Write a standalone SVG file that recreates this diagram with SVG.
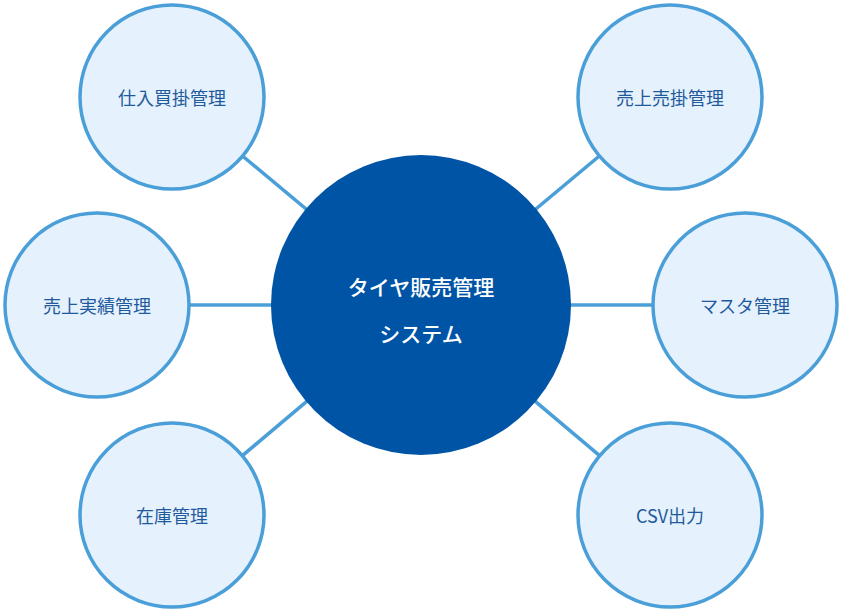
<svg xmlns="http://www.w3.org/2000/svg" width="842" height="610" viewBox="0 0 842 610">
<style>
.c{fill:#e5f1fc;stroke:#4a9fd8;stroke-width:3.5}
.t{font-family:"Noto Sans CJK JP","Noto Sans",sans-serif;font-size:18px;fill:#1f5a9c;text-anchor:middle;dominant-baseline:central}
.m{font-family:"Noto Sans CJK JP","Noto Sans",sans-serif;font-size:21px;fill:#fff;text-anchor:middle;dominant-baseline:central;font-weight:500}
</style>
<rect width="842" height="610" fill="#fff"/>
<g id="connectors" stroke="#4a9fd8" stroke-width="3.5">
<line x1="421" y1="305" x2="172" y2="97"/>
<line x1="421" y1="305" x2="670" y2="97"/>
<line x1="421" y1="305" x2="97" y2="305"/>
<line x1="421" y1="305" x2="745" y2="305"/>
<line x1="421" y1="305" x2="172" y2="515"/>
<line x1="421" y1="305" x2="670" y2="515"/>
</g>
<g id="center"><circle cx="421" cy="305" r="150" fill="#0054a6"/>
<text class="m" x="421" y="286">タイヤ販売管理</text><text class="m" x="421" y="333">システム</text></g>
<g id="n1"><circle class="c" cx="172" cy="97" r="92"/><text class="t" x="172" y="97">仕入買掛管理</text></g>
<g id="n2"><circle class="c" cx="670" cy="97" r="92"/><text class="t" x="670" y="97">売上売掛管理</text></g>
<g id="n3"><circle class="c" cx="97" cy="305" r="92"/><text class="t" x="97" y="305">売上実績管理</text></g>
<g id="n4"><circle class="c" cx="745" cy="305" r="92"/><text class="t" x="745" y="305">マスタ管理</text></g>
<g id="n5"><circle class="c" cx="172" cy="515" r="92"/><text class="t" x="172" y="515">在庫管理</text></g>
<g id="n6"><circle class="c" cx="670" cy="515" r="92"/><text class="t" x="670" y="515">CSV出力</text></g>
</svg>
